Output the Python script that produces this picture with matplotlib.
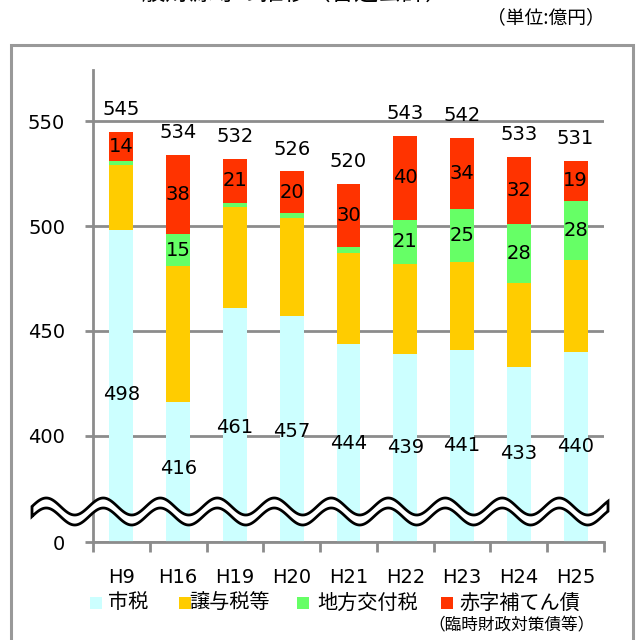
import matplotlib
matplotlib.use("Agg")
import matplotlib.pyplot as plt
import numpy as np
from matplotlib.patches import Rectangle, Polygon

plt.rcParams['font.family'] = ['DejaVu Sans', 'Noto Sans CJK JP']

categories = ['H9', 'H16', 'H19', 'H20', 'H21', 'H22', 'H23', 'H24', 'H25']
shizei = [498, 416, 461, 457, 444, 439, 441, 433, 440]        # 市税
joyozei = [31, 65, 48, 47, 43, 43, 42, 40, 44]                # 譲与税等
kofuzei = [2, 15, 2, 2, 3, 21, 25, 28, 28]                    # 地方交付税
akaji = [14, 38, 21, 20, 30, 40, 34, 32, 19]                  # 赤字補てん債
totals = [545, 534, 532, 526, 520, 543, 542, 533, 531]
series_names = ['市税', '譲与税等', '地方交付税', '赤字補てん債']
colors = ['#CCFFFF', '#FFCC00', '#66FF66', '#FF3300']
yticks = [400, 450, 500, 550]

W, H = 637, 640
fig = plt.figure(figsize=(W / 100, H / 100), dpi=100)

def fx(px):
    return px / W

def fy(py):
    return 1 - py / H

ax = fig.add_axes([fx(93), fy(542), fx(604) - fx(93), fy(70) - fy(542)])
ax.set_xlim(-0.5, len(categories) - 0.5)
ymin, ymax = 349.5, 574.3
ax.set_ylim(ymin, ymax)

x = np.arange(len(categories))
bw = 0.42
s = np.array(shizei)
j = np.array(joyozei)
k = np.array(kofuzei)
a = np.array(akaji)
ax.bar(x, s, bw, color=colors[0], zorder=2)
ax.bar(x, j, bw, bottom=s, color=colors[1], zorder=2)
ax.bar(x, k, bw, bottom=s + j, color=colors[2], zorder=2)
ax.bar(x, a, bw, bottom=s + j + k, color=colors[3], zorder=2)

fs = 14
for i in range(len(categories)):
    # city tax label placed within the (compressed) cyan column
    ly = 398.2 + 0.43 * (shizei[i] - 447.7)
    ax.text(x[i], ly, str(shizei[i]), ha='center', va='center', fontsize=fs, zorder=5)
    if kofuzei[i] >= 10:
        ax.text(x[i], s[i] + j[i] + k[i] / 2, str(kofuzei[i]), ha='center', va='center', fontsize=fs, zorder=5)
    ax.text(x[i], s[i] + j[i] + k[i] + a[i] / 2, str(akaji[i]), ha='center', va='center', fontsize=fs, zorder=5)
    ax.annotate(str(totals[i]), (x[i], totals[i]), xytext=(0, 16), textcoords='offset points',
                ha='center', va='center', fontsize=fs, zorder=5)

grid_c = '#8C8C8C'
ax.set_axisbelow(True)
ax.set_yticks([ymin] + yticks)
ax.set_yticklabels(['0'] + [str(v) for v in yticks])
ax.yaxis.grid(True, color=grid_c, lw=2)
ax.tick_params(axis='y', length=6, width=2, color=grid_c, pad=14, labelsize=fs)
ax.set_xticks(x)
ax.set_xticklabels(categories)
ax.set_xticks(np.arange(len(categories) + 1) - 0.5, minor=True)
ax.tick_params(axis='x', which='major', length=0, pad=19, labelsize=fs)
ax.tick_params(axis='x', which='minor', length=7, width=2, color=grid_c)
for sp in ['top', 'right']:
    ax.spines[sp].set_visible(False)
for sp in ['left', 'bottom']:
    ax.spines[sp].set_color(grid_c)
    ax.spines[sp].set_linewidth(2)

# outer frame
fig.patches.append(Rectangle((fx(11), fy(660)), fx(633) - fx(11), fy(45) - fy(660),
                             transform=fig.transFigure, fill=False, ec='#999999', lw=2.2))

# wave break symbol
xs = np.linspace(32, 608, 600)
A, t, P = 8.5, 10.0, 57.0
yc = 511.5 - A * np.sin(2 * np.pi * (xs - 32) / P)
top = yc - t / 2
bot = yc + t / 2
pts = np.concatenate([np.column_stack([xs, top]), np.column_stack([xs[::-1], bot[::-1]])])
pts_fig = np.column_stack([fx(pts[:, 0]), fy(pts[:, 1])])
fig.patches.append(Polygon(pts_fig, closed=True, transform=fig.transFigure,
                           fc='white', ec='black', lw=2, zorder=10))

# legend (manual)
leg_sq = [90, 179, 297, 441]
leg_tx = [108, 189, 317, 459]
for i, name in enumerate(series_names):
    fig.patches.append(Rectangle((fx(leg_sq[i]), fy(609)), fx(12), 12 / H,
                                 transform=fig.transFigure, fc=colors[i], ec='none'))
    fig.text(fx(leg_tx[i]), fy(603), name, ha='left', va='center', fontsize=14.5,
             family=['Noto Sans CJK JP'])
fig.text(fx(595), fy(626), '（臨時財政対策債等）', ha='right', va='center', fontsize=12,
         family=['Noto Sans CJK JP'])

fig.text(fx(605), fy(18), '（単位:億円）', ha='right', va='center', fontsize=13.5,
         family=['Noto Sans CJK JP'])
fig.text(fx(283), fy(5), '一般財源等の推移（普通会計）', ha='center', va='bottom', fontsize=17,
         family=['Noto Sans CJK JP'])

fig.savefig('out.png', dpi=100)
